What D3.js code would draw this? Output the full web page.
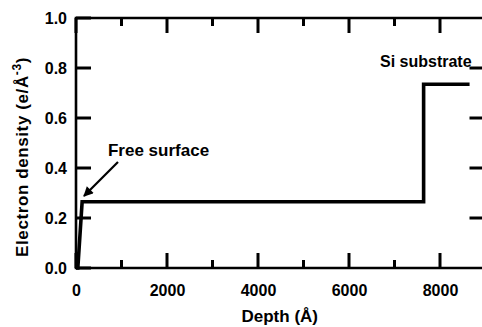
<!DOCTYPE html>
<html>
<head>
<meta charset="utf-8">
<script src="https://cdn.jsdelivr.net/npm/d3@7"></script>
<style>
  body { margin: 0; background: #fff; }
  svg { display: block; font-family: "Liberation Sans", Arial, sans-serif; font-weight: bold; }
</style>
</head>
<body>
<div id="chart"></div>
<script>
// profile of electron density vs depth
const depth = [0, 40, 135, 7640, 7640, 8650]
const density = [0, 0, 0.265, 0.265, 0.735, 0.735]

const xMajor = [0, 2000, 4000, 6000, 8000]
const xMinor = [1000, 3000, 5000, 7000]
const yMajor = [0, 0.2, 0.4, 0.6, 0.8, 1.0]
const yRight = [0.2, 0.4, 0.6, 0.8]

const WIDTH = 482
const HEIGHT = 327
const LEFT = 76, RIGHT = 485.5, TOP = 18, BOTTOM = 268
const INK = '#000'

const svg = d3.select('#chart').append('svg')
  .attr('width', WIDTH)
  .attr('height', HEIGHT)

const x = d3.scaleLinear().domain([0, 9000]).range([LEFT, RIGHT])
const y = d3.scaleLinear().domain([0, 1]).range([BOTTOM, TOP])

function styleAxis(g) {
  g.select('.domain').remove()
  g.selectAll('.tick line').remove()
  g.selectAll('text').attr('fill', INK).attr('font-size', 16)
    .attr('font-family', '"Liberation Sans", Arial, sans-serif').attr('font-weight', 'bold')
}

// tick labels via d3 axes
svg.append('g')
  .attr('transform', `translate(0, ${BOTTOM})`)
  .call(d3.axisBottom(x).tickValues(xMajor).tickSize(0).tickPadding(17).tickFormat(d3.format('d')))
  .call(styleAxis)
svg.append('g')
  .attr('transform', `translate(${LEFT}, 0)`)
  .call(d3.axisLeft(y).tickValues(yMajor).tickSize(0).tickPadding(9).tickFormat(d3.format('.1f')))
  .call(styleAxis)

// inward ticks, each its own short polyline through d3.line
const seg = d3.line()
const tickSegs = []
xMajor.forEach(v => {
  tickSegs.push([[x(v), BOTTOM], [x(v), BOTTOM - 15]])
  tickSegs.push([[x(v), TOP], [x(v), TOP + 15]])
})
xMinor.forEach(v => {
  tickSegs.push([[x(v), BOTTOM], [x(v), BOTTOM - 8]])
  tickSegs.push([[x(v), TOP], [x(v), TOP + 8]])
})
yMajor.forEach(v => tickSegs.push([[LEFT, y(v)], [LEFT + 15, y(v)]]))
yRight.forEach(v => tickSegs.push([[RIGHT, y(v)], [RIGHT - 16, y(v)]]))

svg.append('g').attr('class', 'ticks')
  .selectAll('path')
  .data(tickSegs)
  .join('path')
  .attr('d', seg)
  .attr('fill', 'none')
  .attr('stroke', INK)
  .attr('stroke-width', 3)
  .attr('stroke-linecap', 'butt')

// frame
const fp = d3.path()
fp.moveTo(LEFT, TOP); fp.lineTo(RIGHT, TOP); fp.lineTo(RIGHT, BOTTOM); fp.lineTo(LEFT, BOTTOM); fp.closePath()
svg.append('path')
  .attr('d', fp.toString())
  .attr('fill', 'none')
  .attr('stroke', INK)
  .attr('stroke-width', 2.6)

// data line
const pts = depth.map((d, i) => [d, density[i]])
svg.append('path')
  .datum(pts)
  .attr('fill', 'none')
  .attr('stroke', INK)
  .attr('stroke-width', 3.6)
  .attr('stroke-linejoin', 'miter')
  .attr('d', d3.line().x(d => x(d[0])).y(d => y(d[1])))

// axis titles
svg.append('text')
  .attr('x', (LEFT + RIGHT) / 2 - 1)
  .attr('y', 322)
  .attr('text-anchor', 'middle')
  .attr('font-size', 17)
  .attr('fill', INK)
  .text('Depth (Å)')

const yTitle = svg.append('text')
  .attr('transform', 'translate(28, 157) rotate(-90)')
  .attr('text-anchor', 'middle')
  .attr('font-size', 17)
  .attr('letter-spacing', '0.6px')
  .attr('fill', INK)
yTitle.append('tspan').text('Electron density (e/Å')
yTitle.append('tspan').attr('dy', -7).attr('font-size', 12).text('-3')
yTitle.append('tspan').attr('dy', 7).text(')')

// annotations
svg.append('defs').append('marker')
  .attr('id', 'head')
  .attr('viewBox', '0 0 10 10')
  .attr('refX', 9).attr('refY', 5)
  .attr('markerWidth', 5).attr('markerHeight', 4.5)
  .attr('orient', 'auto')
  .append('path')
  .attr('d', 'M0,0 L10,5 L0,10 Z')
  .attr('fill', INK)

svg.append('line')
  .attr('x1', x(923)).attr('y1', y(0.424))
  .attr('x2', x(176)).attr('y2', y(0.288))
  .attr('stroke', INK)
  .attr('stroke-width', 2.2)
  .attr('marker-end', 'url(#head)')

svg.append('text')
  .attr('x', x(703)).attr('y', y(0.448))
  .attr('font-size', 17)
  .attr('fill', INK)
  .text('Free surface')

svg.append('text')
  .attr('x', x(6681)).attr('y', y(0.804))
  .attr('font-size', 16)
  .attr('fill', INK)
  .text('Si substrate')
</script>
</body>
</html>
